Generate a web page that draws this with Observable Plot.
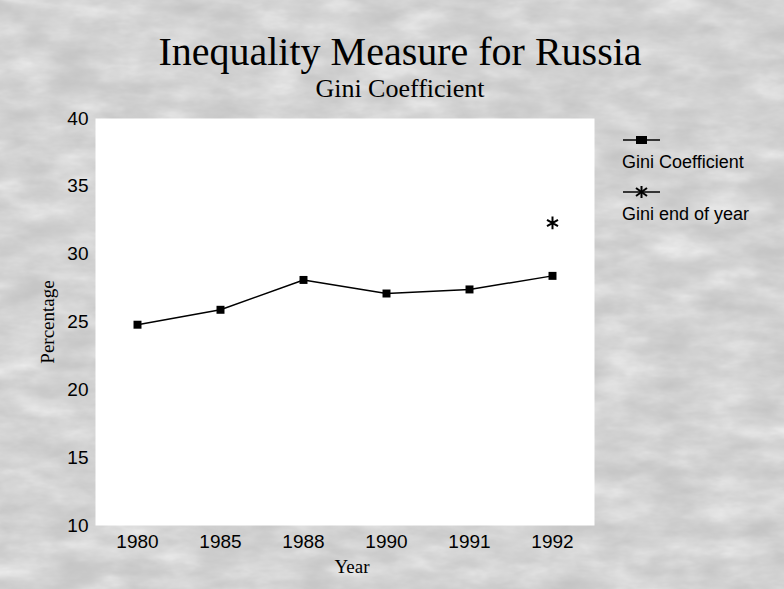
<!DOCTYPE html>
<html>
<head>
<meta charset="utf-8">
<script src="https://cdn.jsdelivr.net/npm/d3@7"></script>
<script src="https://cdn.jsdelivr.net/npm/@observablehq/plot@0.6"></script>
<style>
  html, body { margin: 0; padding: 0; }
  #wrap { position: relative; width: 784px; height: 589px; overflow: hidden; background: #c2c2c2; }
  #bg { position: absolute; left: 0; top: 0; }
  #chart { position: absolute; left: 0; top: 0; }
  .title { position: absolute; left: 0; width: 800px; text-align: center; font-family: "Liberation Serif", "DejaVu Serif", serif; color: #000; white-space: nowrap; }
  #t1 { top: 34px; font-size: 40px; line-height: 36px; }
  #t2 { top: 76.5px; font-size: 26px; line-height: 24px; }
  #ylab { position: absolute; left: 48px; top: 322px; transform: translate(-50%, -50%) rotate(-90deg); font-family: "Liberation Serif", serif; font-size: 19px; white-space: nowrap; }
  #xlab { position: absolute; left: 352px; top: 567px; transform: translate(-50%, -50%); font-family: "Liberation Serif", serif; font-size: 19px; }
  #legend { position: absolute; left: 622px; top: 128px; font-family: "Liberation Sans", Arial, sans-serif; font-size: 18px; color: #000; }
  #legend .sym { display: block; height: 24px; }
  #legend .lab { display: block; height: 28px; line-height: 20px; white-space: nowrap; }
</style>
</head>
<body>
<div id="wrap">
  <svg id="bg" width="784" height="589">
    <filter id="noise">
      <feTurbulence type="fractalNoise" baseFrequency="0.02 0.05" numOctaves="4" seed="7"/>
      <feColorMatrix type="saturate" values="0"/>
      <feComponentTransfer>
        <feFuncR type="linear" slope="0.6" intercept="0.48"/>
        <feFuncG type="linear" slope="0.6" intercept="0.48"/>
        <feFuncB type="linear" slope="0.6" intercept="0.48"/>
      </feComponentTransfer>
    </filter>
    <rect width="784" height="589" filter="url(#noise)"/>
  </svg>
  <div id="chart"></div>
  <div id="t1" class="title">Inequality Measure for Russia</div>
  <div id="t2" class="title">Gini Coefficient</div>
  <div id="ylab">Percentage</div>
  <div id="xlab">Year</div>
  <div id="legend">
    <svg class="sym" width="40" height="24"><line x1="1" y1="12" x2="38" y2="12" stroke="#000" stroke-width="1.5"/><rect x="14" y="8" width="11" height="8" fill="#000"/></svg>
    <span class="lab">Gini Coefficient</span>
    <svg class="sym" width="40" height="24"><line x1="1" y1="12" x2="38" y2="12" stroke="#000" stroke-width="1.5"/><g stroke="#000" stroke-width="2"><line x1="19.5" y1="6" x2="19.5" y2="18"/><line x1="14" y1="8" x2="25" y2="16"/><line x1="14" y1="16" x2="25" y2="8"/></g></svg>
    <span class="lab">Gini end of year</span>
  </div>
</div>
<script>
const years = ["1980", "1985", "1988", "1990", "1991", "1992"];
const gini = [24.8, 25.9, 28.1, 27.1, 27.4, 28.4];
const endYear = ["1992"];
const giniEnd = [32.3];
const yTicks = [10, 15, 20, 25, 30, 35, 40];

const series = years.map((y, i) => ({year: y, value: gini[i]}));
const endPts = endYear.map((y, i) => ({year: y, value: giniEnd[i]}));

const chart = Plot.plot({
  width: 784,
  height: 589,
  marginTop: 118,
  marginBottom: 64,
  marginLeft: 95,
  marginRight: 190,
  style: {background: "transparent", fontFamily: "Liberation Sans, Arial, sans-serif", fontSize: "19px", color: "#000"},
  x: {type: "point", domain: years, padding: 0.5},
  y: {domain: [10, 40]},
  marks: [
    Plot.frame({fill: "white", stroke: null}),
    Plot.axisY({ticks: yTicks, tickSize: 0, tickPadding: 7, label: null, fontSize: 19}),
    Plot.axisX({tickSize: 0, tickPadding: 9, label: null, fontSize: 19}),
    Plot.line(series, {x: "year", y: "value", stroke: "#000", strokeWidth: 1.5}),
    Plot.dot(series, {x: "year", y: "value", symbol: "square", r: 4.5, fill: "#000", stroke: null}),
    Plot.dot(endPts, {x: "year", y: "value", symbol: "asterisk", r: 6, stroke: "#000", strokeWidth: 2})
  ]
});
document.getElementById("chart").appendChild(chart);
</script>
</body>
</html>
